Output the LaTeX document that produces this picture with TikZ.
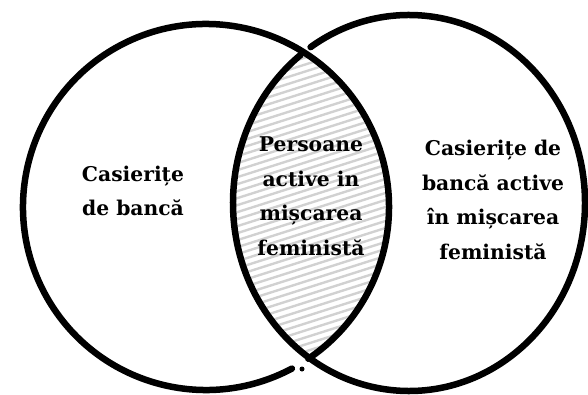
\documentclass[tikz,border=0pt]{standalone}
\usepackage{fontspec}
\setmainfont{DejaVu Serif}
\begin{document}
\begin{tikzpicture}[x=1pt,y=-1pt,
  ring/.style={line width=6.5pt, line cap=round, draw=black},
  stripe/.style={draw=black!18, line width=2.4pt},
  lbl/.style={font=\bfseries\fontsize{20.3}{34.5}\selectfont, align=center, text=black, inner sep=0pt}]
\useasboundingbox (0,0) rectangle (588,395);
% hatched intersection
\begin{scope}
  \clip (206,207) ellipse [x radius=183, y radius=183];
  \clip (409,203) ellipse [x radius=176, y radius=188];
  \foreach \b in {0,7,...,490} {
    \draw[stripe] (200,\b) -- (420,\b-70);
  }
\end{scope}
% left circle (with gap and dot near the lower crossing)
\draw[ring] ([shift={(206,207)}]62:183 and 183) arc[start angle=62, end angle=416, x radius=183, y radius=183];
\fill (302,369) circle[radius=2.5];
% right circle (with small gap near the upper crossing)
\draw[ring] ([shift={(409,203)}]232:176 and 188) arc[start angle=232, end angle=-124, x radius=176, y radius=188];
% labels
\node[lbl] (left) at (133,191) {Casierițe\\de bancă};
\node[lbl] (mid) at (311,196) {Persoane\\active in\\mișcarea\\feministă};
\node[lbl] (right) at (493,200) {Casierițe de\\bancă active\\în mișcarea\\feministă};
\end{tikzpicture}
\end{document}
